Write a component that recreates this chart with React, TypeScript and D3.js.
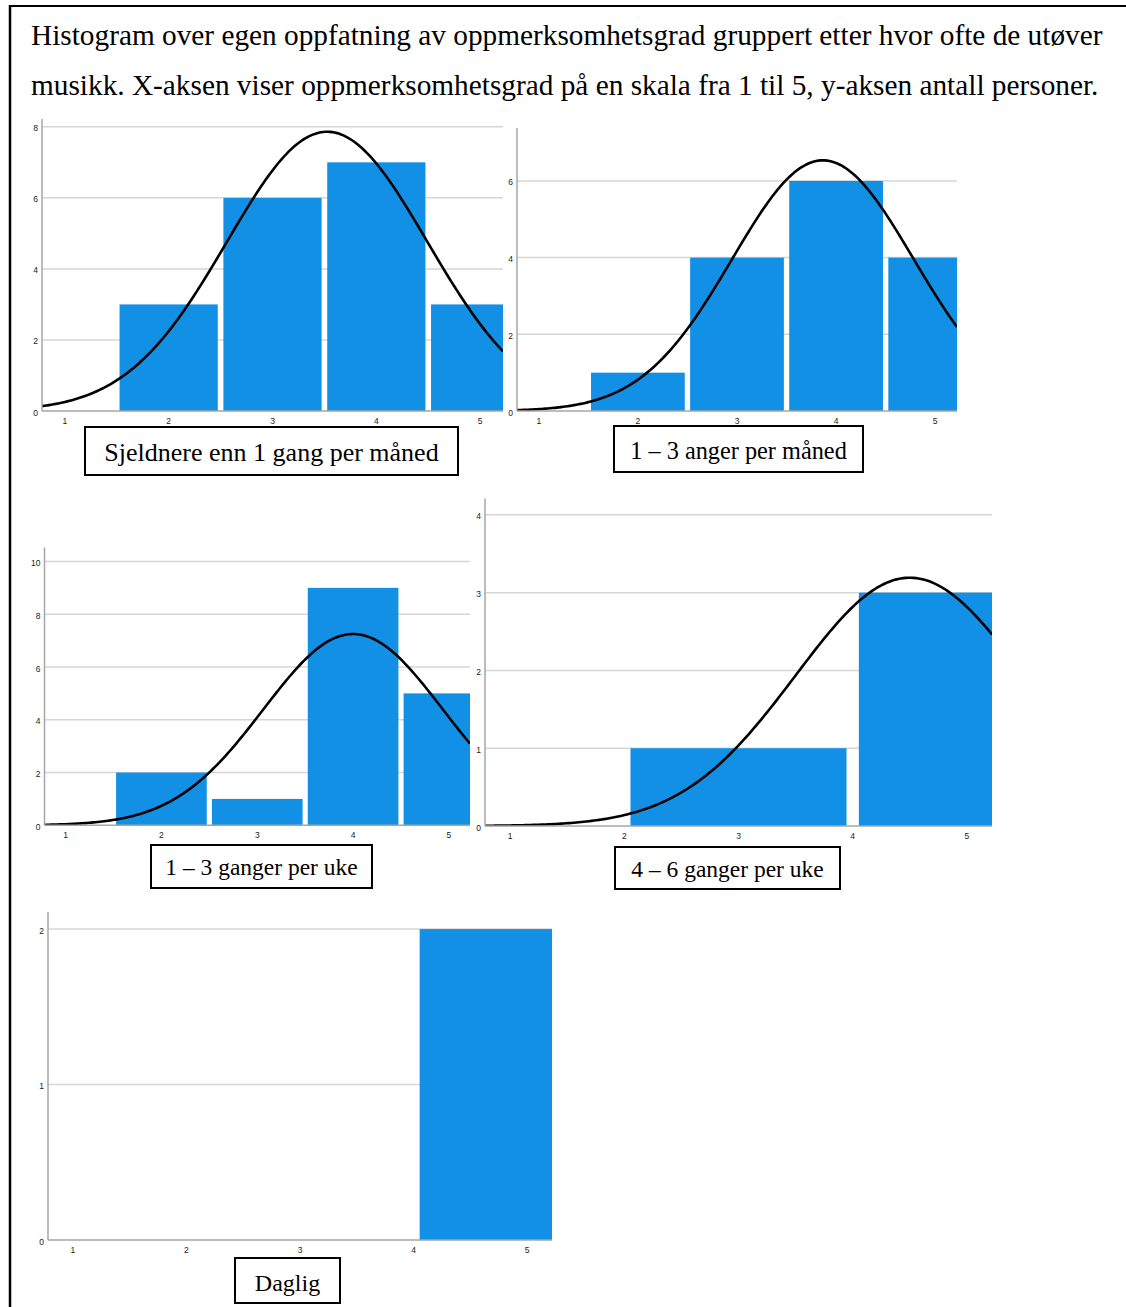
import React from "react";
import * as d3 from "d3";

// ---------- DATA ----------
const titleLines = [
  "Histogram over egen oppfatning av oppmerksomhetsgrad gruppert etter hvor ofte de utøver",
  "musikk. X-aksen viser oppmerksomhetsgrad på en skala fra 1 til 5, y-aksen antall personer.",
];
const xTickValues = [1, 2, 3, 4, 5];

const groupNames = [
  "Sjeldnere enn 1 gang per måned",
  "1 – 3 anger per måned",
  "1 – 3 ganger per uke",
  "4 – 6 ganger per uke",
  "Daglig",
];

// bin centers, counts, bin width per group
const sjeldnereCenters = [2, 3, 4, 5];
const sjeldnereCounts = [3, 6, 7, 3];
const maanedCenters = [2, 3, 4, 5];
const maanedCounts = [1, 4, 6, 4];
const ukeCenters = [2, 3, 4, 5];
const ukeCounts = [2, 1, 9, 5];
const uke46Centers = [3, 5];
const uke46Counts = [1, 3];
const dagligCenters = [5];
const dagligCounts = [2];
const binWidths = [1, 1, 1, 2, 2];

const yTicks1 = [0, 2, 4, 6, 8];
const yTicks2 = [0, 2, 4, 6];
const yTicks3 = [0, 2, 4, 6, 8, 10];
const yTicks4 = [0, 1, 2, 3, 4];
const yTicks5 = [0, 1, 2];

const yMaxes = [8.22, 7.38, 10.53, 4.21, 2.11];
const xDomain = [0.78, 5.22];

// ---------- LAYOUT ----------
const layouts = [
  { left: 42, right: 503, top: 119, bottom: 411, fs: 26, box: { x: 85, y: 427, w: 373, h: 48, base: 461 } },
  { left: 517, right: 957, top: 128, bottom: 411, fs: 24.3, box: { x: 614, y: 426, w: 249, h: 46, base: 459 } },
  { left: 44.5, right: 470, top: 547.5, bottom: 825.3, fs: 23.5, box: { x: 151, y: 845, w: 221, h: 43, base: 875 } },
  { left: 485, right: 992, top: 498.5, bottom: 826, fs: 23.5, box: { x: 615, y: 847, w: 225, h: 42, base: 877 } },
  { left: 48, right: 552, top: 912, bottom: 1240, fs: 24, box: { x: 235, y: 1258, w: 105, h: 45, base: 1291 } },
];

const centersAll = [sjeldnereCenters, maanedCenters, ukeCenters, uke46Centers, dagligCenters];
const countsAll = [sjeldnereCounts, maanedCounts, ukeCounts, uke46Counts, dagligCounts];
const yTicksAll = [yTicks1, yTicks2, yTicks3, yTicks4, yTicks5];

const BAR = "#1290e6";
const GRID = "#d6d6d6";
const AXIS = "#a6a6a6";
const SANS = "'Liberation Sans', Arial, sans-serif";
const SERIF = "'Liberation Serif', 'Times New Roman', serif";

function Panel({ i }: { i: number }) {
  const L = layouts[i];
  const centers = centersAll[i];
  const counts = countsAll[i];
  const bw = binWidths[i];
  const x = d3.scaleLinear().domain(xDomain).range([L.left, L.right]);
  const y = d3.scaleLinear().domain([0, yMaxes[i]]).range([L.bottom, L.top]);
  const ticks = yTicksAll[i];

  const n = d3.sum(counts);
  const mean = d3.sum(centers.map((c, k) => c * counts[k])) / n;
  const ss = d3.sum(centers.map((c, k) => counts[k] * (c - mean) ** 2));
  const sd = n > 1 ? Math.sqrt(ss / (n - 1)) : 0;

  let curvePath: string | null = null;
  if (sd > 0) {
    const xs = d3.range(0, 201).map((k) => xDomain[0] + ((xDomain[1] - xDomain[0]) * k) / 200);
    const pdf = (v: number) =>
      ((n * bw) / (sd * Math.sqrt(2 * Math.PI))) * Math.exp(-((v - mean) ** 2) / (2 * sd * sd));
    curvePath = d3
      .line<number>()
      .x((v) => x(v))
      .y((v) => y(pdf(v)))(xs);
  }

  const clipId = `clip${i}`;
  const pxBin = x(bw) - x(0);
  const gap = pxBin * 0.054;

  return (
    <g>
      <defs>
        <clipPath id={clipId}>
          <rect x={L.left} y={L.top - 20} width={L.right - L.left} height={L.bottom - L.top + 20} />
        </clipPath>
      </defs>
      {ticks.map((t) =>
        t === 0 ? null : (
          <line key={"g" + t} x1={L.left} x2={L.right} y1={y(t)} y2={y(t)} stroke={GRID} strokeWidth={1.5} />
        )
      )}
      <g clipPath={`url(#${clipId})`}>
        {centers.map((c, k) => {
          const x0 = x(c - bw / 2) + gap / 2;
          const x1 = x(c + bw / 2) - gap / 2;
          return (
            <rect key={"b" + k} x={x0} y={y(counts[k])} width={x1 - x0} height={y(0) - y(counts[k])} fill={BAR} />
          );
        })}
        {curvePath && <path d={curvePath} fill="none" stroke="#000" strokeWidth={2.6} />}
      </g>
      <line x1={L.left} x2={L.left} y1={L.top} y2={L.bottom} stroke={AXIS} strokeWidth={1.5} />
      <line x1={L.left} x2={L.right} y1={L.bottom} y2={L.bottom} stroke={AXIS} strokeWidth={1.5} />
      {ticks.map((t) => (
        <text key={"yt" + t} x={L.left - 4} y={y(t) + 4.5} fontSize={8.5} fontFamily={SANS} textAnchor="end" fill="#222">
          {t}
        </text>
      ))}
      {xTickValues.map((t) => (
        <text key={"xt" + t} x={x(t)} y={L.bottom + 13} fontSize={8.5} fontFamily={SANS} textAnchor="middle" fill="#222">
          {t}
        </text>
      ))}
      <rect x={L.box.x} y={L.box.y} width={L.box.w} height={L.box.h} fill="#fff" stroke="#000" strokeWidth={2} />
      <text
        x={L.box.x + L.box.w / 2}
        y={L.box.base}
        fontSize={L.fs}
        fontFamily={SERIF}
        textAnchor="middle"
        fill="#000"
      >
        {groupNames[i]}
      </text>
    </g>
  );
}

export default function App() {
  return (
    <div style={{ position: "absolute", left: 0, top: 0 }}>
      <svg width={1126} height={1307} style={{ display: "block", background: "#fff" }}>
        <rect x={0} y={0} width={1126} height={1307} fill="#fff" />
        <line x1={10} x2={1126} y1={6} y2={6} stroke="#000" strokeWidth={2} />
        <line x1={10} x2={10} y1={5} y2={1307} stroke="#000" strokeWidth={2.5} />
        {titleLines.map((t, k) => (
          <text key={k} x={31} y={45 + k * 50} fontSize={29.3} fontFamily={SERIF} fill="#000">
            {t}
          </text>
        ))}
        {[0, 1, 2, 3, 4].map((i) => (
          <Panel key={i} i={i} />
        ))}
      </svg>
    </div>
  );
}
